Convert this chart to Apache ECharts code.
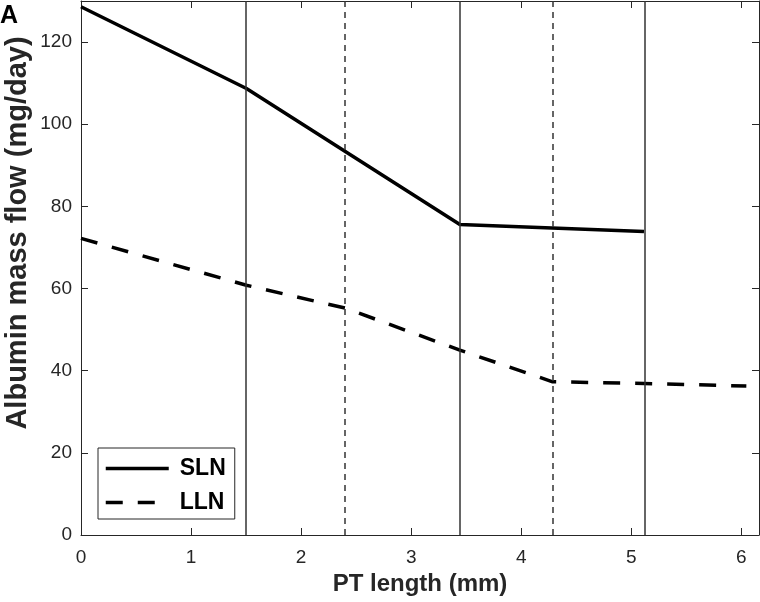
<!DOCTYPE html>
<html>
<head>
<meta charset="utf-8">
<script src="https://cdn.jsdelivr.net/npm/echarts@6/dist/echarts.min.js"></script>
<style>
  html, body { margin: 0; padding: 0; background: #fff; }
  #chart { width: 760px; height: 602px; }
</style>
</head>
<body>
<div id="chart"></div>
<script>
// 数据
var slnX = [0, 1.503, 3.442, 5.115]
var slnY = [128.6, 108.7, 75.6, 73.9]
var llnX = [0, 1.503, 2.405, 3.442, 4.285, 5.115, 6.045]
var llnY = [72.2, 60.8, 55.2, 45.0, 37.3, 36.9, 36.25]
var solidMarks = [1.503, 3.442, 5.115]   // SLN segment borders
var dashMarks = [2.405, 4.285]           // LLN segment borders
var xTicks = [0, 1, 2, 3, 4, 5, 6]
var yTicks = [0, 20, 40, 60, 80, 100, 120]

var axisColor = '#262626'
var font = 'Arial, "Liberation Sans", Helvetica, sans-serif'
var llnDash = [17, 15]

function zip(xs, ys) {
  return xs.map(function (x, i) { return [x, ys[i]] })
}

var chart = echarts.init(document.getElementById('chart'))

function frameAxis(pos, isX) {
  return {
    type: 'value',
    position: pos,
    min: 0,
    max: isX ? 6.16 : 130,
    interval: isX ? 1 : 20,
    axisLine: { show: true, onZero: false, lineStyle: { color: axisColor, width: 1 } },
    axisTick: { show: true, inside: true, length: 7, lineStyle: { color: axisColor } },
    axisLabel: { show: false },
    splitLine: { show: false }
  }
}

chart.setOption({
  animation: false,
  title: {
    text: 'A',
    left: 0,
    top: 4,
    padding: 0,
    textStyle: { fontFamily: font, fontSize: 25, fontWeight: 'bold', color: '#000' }
  },
  grid: { left: 81, right: 1, top: 1, bottom: 67, outerBoundsMode: 'none' },
  legend: {
    orient: 'vertical',
    left: 98,
    top: 448,
    itemWidth: 63,
    itemHeight: 14,
    itemGap: 11,
    padding: [9, 9, 5, 6],
    borderColor: axisColor,
    borderWidth: 1,
    backgroundColor: '#fff',
    itemStyle: { opacity: 0 },
    lineStyle: { width: 3.5, color: '#000' },
    textStyle: { fontFamily: font, fontSize: 23, fontWeight: 'bold', color: '#000', padding: [0, 0, 0, 6] },
    data: [
      { name: 'SLN', lineStyle: { type: 'solid' } },
      { name: 'LLN', lineStyle: { type: llnDash } }
    ]
  },
  xAxis: [
    {
      type: 'value',
      position: 'bottom',
      min: 0,
      max: 6.16,
      interval: 1,
      name: 'PT length (mm)',
      nameLocation: 'middle',
      nameGap: 37,
      nameMoveOverlap: false,
      nameTextStyle: { fontFamily: font, fontSize: 24, fontWeight: 'bold', color: axisColor },
      axisLine: { show: true, onZero: false, lineStyle: { color: axisColor, width: 1 } },
      axisTick: { show: true, inside: true, length: 7, lineStyle: { color: axisColor } },
      axisLabel: {
        margin: 13,
        fontFamily: font,
        fontSize: 19,
        color: axisColor,
        formatter: function (v) { return xTicks.indexOf(v) >= 0 ? String(v) : '' }
      },
      splitLine: { show: false }
    },
    frameAxis('top', true)
  ],
  yAxis: [
    {
      type: 'value',
      position: 'left',
      min: 0,
      max: 130,
      interval: 20,
      name: 'Albumin mass flow (mg/day)',
      nameLocation: 'middle',
      nameGap: 49,
      nameMoveOverlap: false,
      nameTextStyle: { fontFamily: font, fontSize: 29, fontWeight: 'bold', color: axisColor, padding: [0, 0, 0, 70] },
      axisLine: { show: true, onZero: false, lineStyle: { color: axisColor, width: 1 } },
      axisTick: { show: true, inside: true, length: 7, lineStyle: { color: axisColor } },
      axisLabel: {
        margin: 9,
        fontFamily: font,
        fontSize: 19,
        color: axisColor,
        formatter: function (v) { return yTicks.indexOf(v) >= 0 ? String(v) : '' }
      },
      splitLine: { show: false }
    },
    frameAxis('right', false)
  ],
  series: [
    {
      name: 'SLN',
      type: 'line',
      data: zip(slnX, slnY),
      symbol: 'none',
      color: '#000',
      lineStyle: { color: '#000', width: 3.5, type: 'solid' },
      z: 3,
      markLine: {
        silent: true,
        symbol: 'none',
        label: { show: false },
        lineStyle: { color: '#333', width: 1.5, type: 'solid' },
        data: solidMarks.map(function (x) { return { xAxis: x } })
      }
    },
    {
      name: 'LLN',
      type: 'line',
      data: zip(llnX, llnY),
      symbol: 'none',
      color: '#000',
      lineStyle: { color: '#000', width: 3.5, type: llnDash },
      z: 3,
      markLine: {
        silent: true,
        symbol: 'none',
        label: { show: false },
        lineStyle: { color: '#333', width: 1.5, type: [6, 5] },
        data: dashMarks.map(function (x) { return { xAxis: x } })
      }
    }
  ]
})
</script>
</body>
</html>
